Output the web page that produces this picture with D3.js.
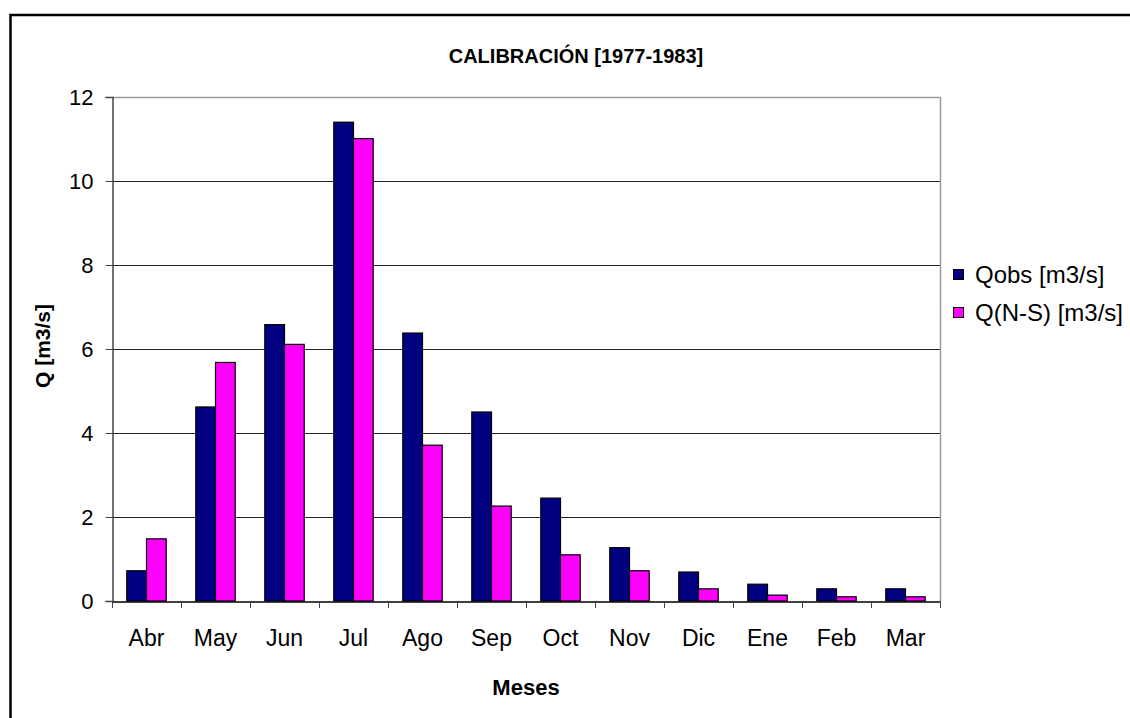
<!DOCTYPE html>
<html>
<head>
<meta charset="utf-8">
<script src="https://cdn.jsdelivr.net/npm/d3@7"></script>
<style>
  html, body { margin: 0; padding: 0; background: #fff; }
  svg { display: block; font-family: "Liberation Sans", Arial, sans-serif; }
</style>
</head>
<body>
<div id="chart"></div>
<script>
// Calibración 1977-1983 — caudales medios mensuales
const months = ['Abr', 'May', 'Jun', 'Jul', 'Ago', 'Sep', 'Oct', 'Nov', 'Dic', 'Ene', 'Feb', 'Mar'];
const qObs = [0.72, 4.62, 6.58, 11.40, 6.38, 4.50, 2.45, 1.27, 0.69, 0.40, 0.29, 0.29];
const qNS = [1.48, 5.68, 6.11, 11.01, 3.71, 2.26, 1.10, 0.72, 0.29, 0.14, 0.10, 0.10];
const seriesNames = ['Qobs [m3/s]', 'Q(N-S) [m3/s]'];
const yTicks = [0, 2, 4, 6, 8, 10, 12];

const W = 1130, H = 718;
const colors = ['#000080', '#ff00ff'];

const svg = d3.select('#chart').append('svg')
  .attr('width', W)
  .attr('height', H);

// chart frame (runs off the right and bottom edge)
svg.append('rect')
  .attr('x', 10.5).attr('y', 15)
  .attr('width', 1140).attr('height', 740)
  .attr('fill', '#fff')
  .attr('stroke', '#000')
  .attr('stroke-width', 2.5);

const plot = { left: 112, right: 940, top: 97, bottom: 601 };

const x0 = d3.scaleBand()
  .domain(months)
  .range([plot.left, plot.right])
  .paddingInner(0)
  .paddingOuter(0);

// gap width ~150% of a bar
const barW = x0.bandwidth() / 3.5;
const x1 = d3.scaleBand()
  .domain([0, 1])
  .range([barW * 0.75, barW * 2.75]);

const y = d3.scaleLinear()
  .domain([0, 12])
  .range([plot.bottom, plot.top]);

// Gridlines
svg.append('g')
  .selectAll('line')
  .data(yTicks.filter(t => t > 0))
  .join('line')
  .attr('x1', plot.left).attr('x2', plot.right)
  .attr('y1', d => Math.round(y(d)) + 0.5)
  .attr('y2', d => Math.round(y(d)) + 0.5)
  .attr('stroke', d => d === 12 ? '#9a9a9a' : '#222')
  .attr('stroke-width', d => d === 12 ? 1.5 : 1);

// right border of plot area
svg.append('line')
  .attr('x1', plot.right + 0.5).attr('x2', plot.right + 0.5)
  .attr('y1', plot.top).attr('y2', plot.bottom)
  .attr('stroke', '#9a9a9a')
  .attr('stroke-width', 1.5);

// Bars
const data = months.map((m, i) => ({ m, vals: [qObs[i], qNS[i]] }));
svg.append('g')
  .selectAll('g')
  .data(data)
  .join('g')
  .attr('transform', d => `translate(${x0(d.m)},0)`)
  .selectAll('rect')
  .data(d => d.vals.map((v, k) => ({ v, k })))
  .join('rect')
  .attr('x', d => x1(d.k))
  .attr('y', d => y(d.v))
  .attr('width', x1.bandwidth())
  .attr('height', d => y(0) - y(d.v))
  .attr('fill', d => colors[d.k])
  .attr('stroke', '#000')
  .attr('stroke-width', 1.2);

// Y axis
const yAxis = svg.append('g')
  .attr('transform', `translate(${plot.left + 0.5},0)`)
  .call(d3.axisLeft(y).tickValues(yTicks).tickSize(7).tickPadding(12).tickFormat(d3.format('d')));
yAxis.select('.domain').attr('stroke', '#444').attr('stroke-width', 1.5);
yAxis.selectAll('.tick line').attr('stroke', '#444');
yAxis.selectAll('text')
  .attr('font-size', 22)
  .attr('fill', '#000')
  .attr('font-family', 'Liberation Sans, Arial, sans-serif');

// X axis
const xAxis = svg.append('g')
  .attr('transform', `translate(0,${plot.bottom + 0.5})`)
  .call(d3.axisBottom(x0).tickSize(0).tickPadding(28));
xAxis.select('.domain').attr('stroke', '#000').attr('stroke-width', 1.5);
xAxis.selectAll('text')
  .attr('font-size', 23)
  .attr('fill', '#000')
  .attr('font-family', 'Liberation Sans, Arial, sans-serif');

// category boundary ticks
svg.append('g')
  .selectAll('line')
  .data(months.concat(['end']))
  .join('line')
  .attr('x1', (d, i) => Math.round(plot.left + i * x0.bandwidth()) + 0.5)
  .attr('x2', (d, i) => Math.round(plot.left + i * x0.bandwidth()) + 0.5)
  .attr('y1', plot.bottom)
  .attr('y2', plot.bottom + 7)
  .attr('stroke', '#444');

// Title
svg.append('text')
  .attr('x', 576).attr('y', 63)
  .attr('text-anchor', 'middle')
  .attr('font-size', 20)
  .attr('font-weight', 'bold')
  .text('CALIBRACIÓN [1977-1983]');

// Axis titles
svg.append('text')
  .attr('transform', 'translate(50,346) rotate(-90)')
  .attr('text-anchor', 'middle')
  .attr('font-size', 21)
  .attr('font-weight', 'bold')
  .text('Q [m3/s]');

svg.append('text')
  .attr('x', 526).attr('y', 695)
  .attr('text-anchor', 'middle')
  .attr('font-size', 22)
  .attr('font-weight', 'bold')
  .text('Meses');

// Legend
const legend = svg.append('g')
  .selectAll('g')
  .data(seriesNames)
  .join('g')
  .attr('transform', (d, i) => `translate(953,${275 + i * 38})`);

legend.append('rect')
  .attr('x', 0.5).attr('y', -5.5)
  .attr('width', 10).attr('height', 10)
  .attr('fill', (d, i) => colors[i])
  .attr('stroke', '#000');

legend.append('text')
  .attr('x', 22).attr('y', 8)
  .attr('font-size', 24)
  .text(d => d);
</script>
</body>
</html>
